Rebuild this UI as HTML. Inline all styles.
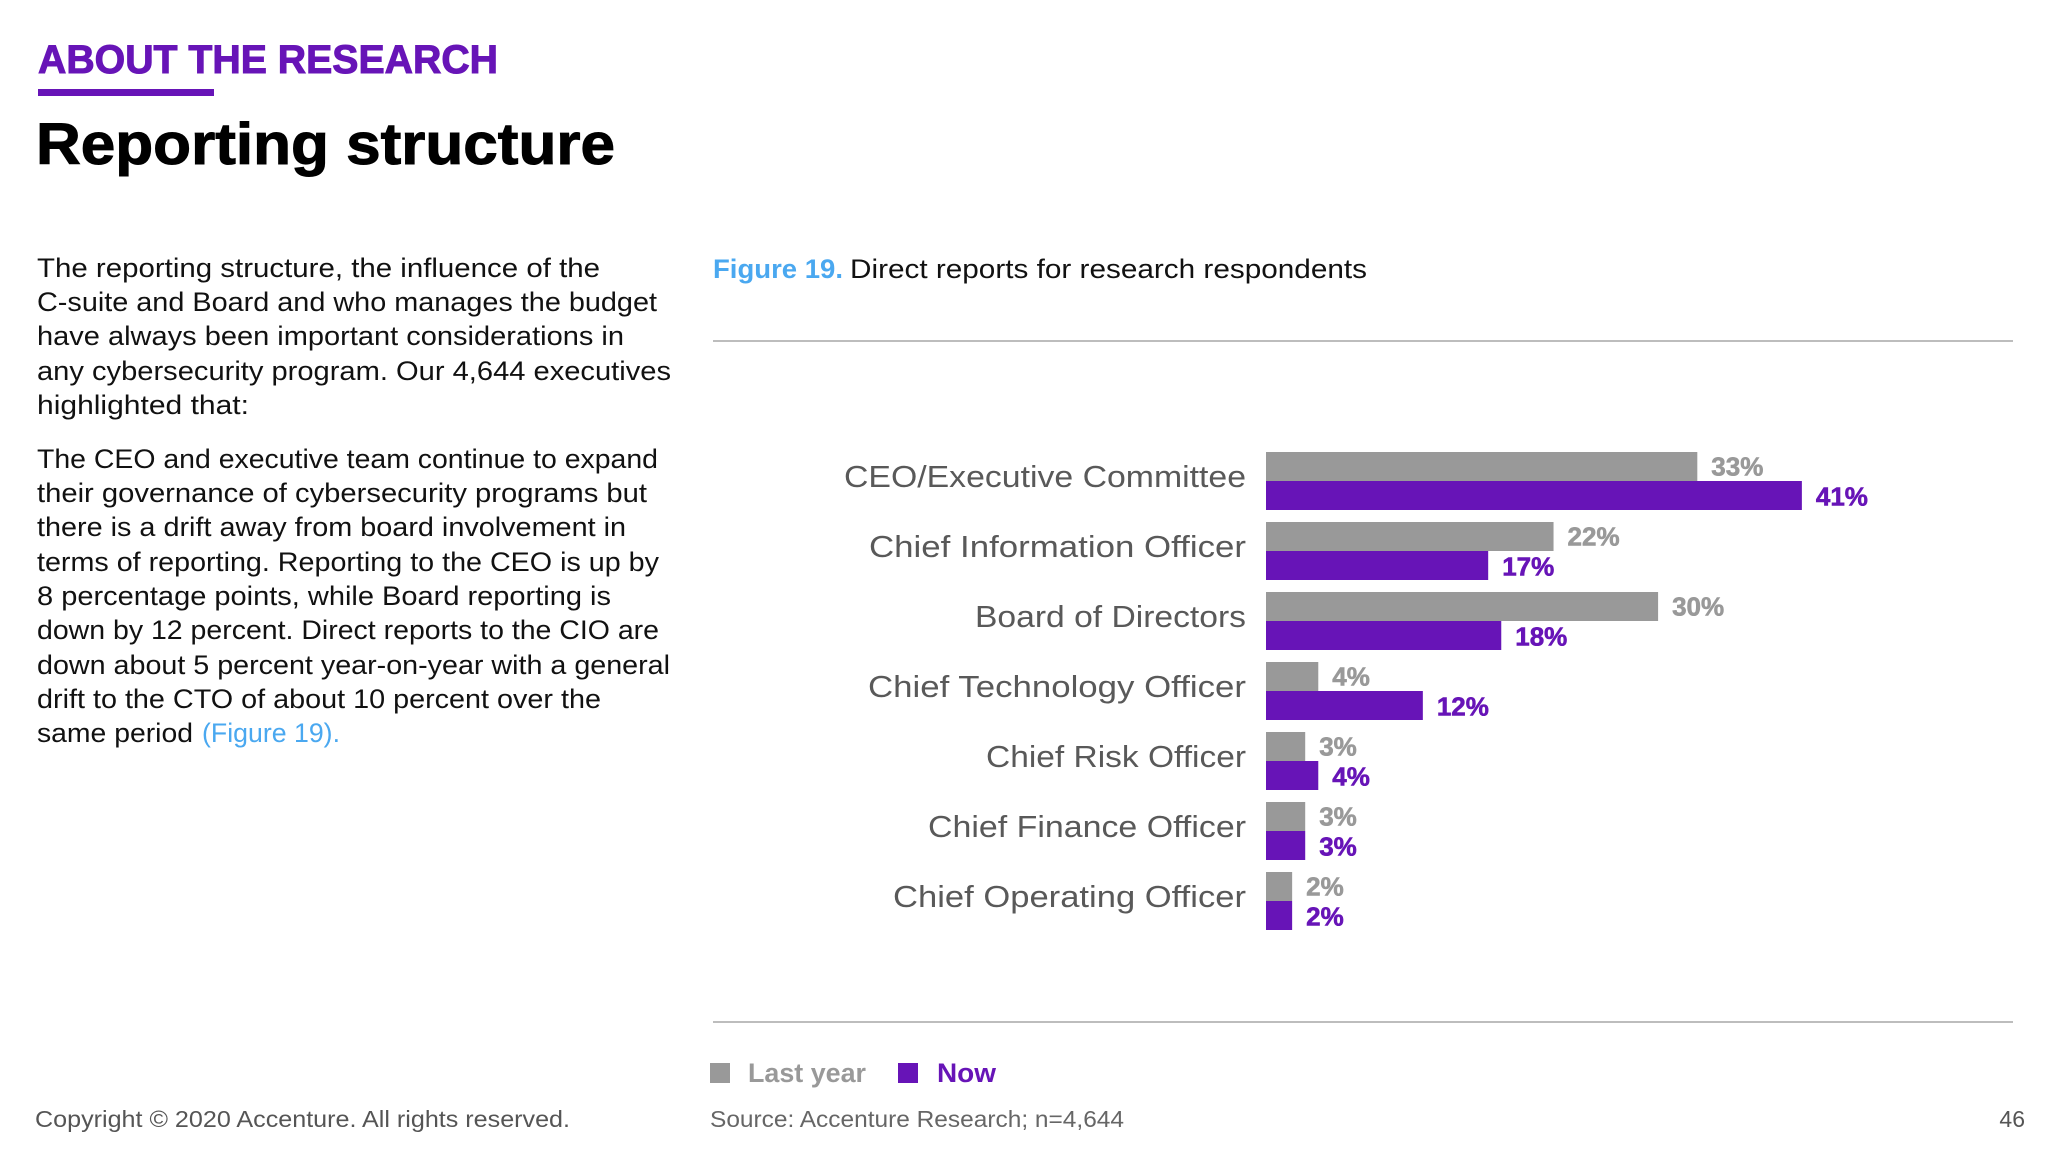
<!DOCTYPE html>
<html><head><meta charset="utf-8"><style>
html,body{margin:0;padding:0;background:#fff}
svg{display:block}
text{font-family:"Liberation Sans",Arial,sans-serif}
</style></head><body>
<svg id="page" width="2048" height="1152" viewBox="0 0 2048 1152" xmlns="http://www.w3.org/2000/svg">
<text x="38" y="73" font-size="40" font-weight="bold" fill="#6714b7" stroke="#6714b7" stroke-width="1" textLength="460" lengthAdjust="spacingAndGlyphs">ABOUT THE RESEARCH</text>
<rect x="38" y="89" width="176" height="7" fill="#6714b7"/>
<text x="36" y="164" font-size="58" font-weight="bold" fill="#000" stroke="#000" stroke-width="1" textLength="579" lengthAdjust="spacingAndGlyphs">Reporting structure</text>

<g font-size="27" fill="#111">
<text x="37" y="277" textLength="563" lengthAdjust="spacingAndGlyphs">The reporting structure, the influence of the</text>
<text x="37" y="311" textLength="620" lengthAdjust="spacingAndGlyphs">C-suite and Board and who manages the budget</text>
<text x="37" y="345" textLength="587" lengthAdjust="spacingAndGlyphs">have always been important considerations in</text>
<text x="37" y="380" textLength="634" lengthAdjust="spacingAndGlyphs">any cybersecurity program. Our 4,644 executives</text>
<text x="37" y="414" textLength="212" lengthAdjust="spacingAndGlyphs">highlighted that:</text>
<text x="37" y="468" textLength="621" lengthAdjust="spacingAndGlyphs">The CEO and executive team continue to expand</text>
<text x="37" y="502" textLength="610" lengthAdjust="spacingAndGlyphs">their governance of cybersecurity programs but</text>
<text x="37" y="536" textLength="589" lengthAdjust="spacingAndGlyphs">there is a drift away from board involvement in</text>
<text x="37" y="571" textLength="622" lengthAdjust="spacingAndGlyphs">terms of reporting. Reporting to the CEO is up by</text>
<text x="37" y="605" textLength="574" lengthAdjust="spacingAndGlyphs">8 percentage points, while Board reporting is</text>
<text x="37" y="639" textLength="622" lengthAdjust="spacingAndGlyphs">down by 12 percent. Direct reports to the CIO are</text>
<text x="37" y="674" textLength="633" lengthAdjust="spacingAndGlyphs">down about 5 percent year-on-year with a general</text>
<text x="37" y="708" textLength="564" lengthAdjust="spacingAndGlyphs">drift to the CTO of about 10 percent over the</text>
<text x="37" y="742" textLength="156" lengthAdjust="spacingAndGlyphs">same period</text>
<text x="202" y="742" fill="#4aa8f0" textLength="138" lengthAdjust="spacingAndGlyphs">(Figure 19).</text>
</g>

<text x="713" y="278" font-size="27" font-weight="bold" fill="#4aa8f0" textLength="130" lengthAdjust="spacingAndGlyphs">Figure 19.</text>
<text x="850" y="278" font-size="27" fill="#111" textLength="517" lengthAdjust="spacingAndGlyphs">Direct reports for research respondents</text>
<rect x="713" y="340" width="1300" height="2" fill="#bdbdbd"/>
<rect x="713" y="1021" width="1300" height="2" fill="#bdbdbd"/>

<g id="chart"></g>

<g>
<rect x="710" y="1063" width="20" height="20" fill="#999"/>
<text x="748" y="1082" font-size="27" font-weight="bold" fill="#999" textLength="118" lengthAdjust="spacingAndGlyphs">Last year</text>
<rect x="898" y="1063" width="20" height="20" fill="#6714b7"/>
<text x="937" y="1082" font-size="27" font-weight="bold" fill="#6714b7" textLength="59" lengthAdjust="spacingAndGlyphs">Now</text>
</g>
<text x="710" y="1127" font-size="23" fill="#666" textLength="414" lengthAdjust="spacingAndGlyphs">Source: Accenture Research; n=4,644</text>
<text x="35" y="1127" font-size="23" fill="#555" textLength="535" lengthAdjust="spacingAndGlyphs">Copyright © 2020 Accenture. All rights reserved.</text>
<text x="2025" y="1127" font-size="23" fill="#555" text-anchor="end">46</text>
</svg>
<script>
const categories = ["CEO/Executive Committee","Chief Information Officer","Board of Directors","Chief Technology Officer","Chief Risk Officer","Chief Finance Officer","Chief Operating Officer"];
const lastYear = [33,22,30,4,3,3,2];
const nowValues = [41,17,18,12,4,3,2];
const labelWidths = [402,377,271,378,260,318,353];

const NS = "http://www.w3.org/2000/svg";
const chart = document.getElementById('chart');
const x0 = 1266, pxPerPct = 13.07;
const yTop = 452, pitch = 70, barH = 29;
function xScale(v){ return x0 + v * pxPerPct; }
function yScale(i){ return yTop + i * pitch; }
function mk(tag, attrs){ const e = document.createElementNS(NS, tag); for (const k in attrs) e.setAttribute(k, attrs[k]); chart.appendChild(e); return e; }

categories.forEach((c, i) => {
  const y = yScale(i);
  const lab = mk('text', {x: 1246, y: y + barH + 6, 'font-size': 31, fill: '#595959', 'text-anchor': 'end', textLength: labelWidths[i], lengthAdjust: 'spacingAndGlyphs'});
  lab.textContent = c;
  
  

  const g = mk('rect', {x: x0, y: y, width: xScale(lastYear[i]) - x0, height: barH, fill: '#999999'});
  
  
  const gl = mk('text', {x: xScale(lastYear[i]) + 14, y: y + barH/2 + 9, 'font-size': 26, 'font-weight': 'bold', fill: '#999', stroke: '#999', 'stroke-width': 0.6});
  gl.textContent = lastYear[i] + '%';
  
  

  const p = mk('rect', {x: x0, y: y + barH, width: xScale(nowValues[i]) - x0, height: barH, fill: '#6714b7'});
  
  
  const pl = mk('text', {x: xScale(nowValues[i]) + 14, y: y + barH + barH/2 + 10, 'font-size': 26, 'font-weight': 'bold', fill: '#6714b7', stroke: '#6714b7', 'stroke-width': 0.6});
  pl.textContent = nowValues[i] + '%';
  
  
});
</script>
</body></html>
